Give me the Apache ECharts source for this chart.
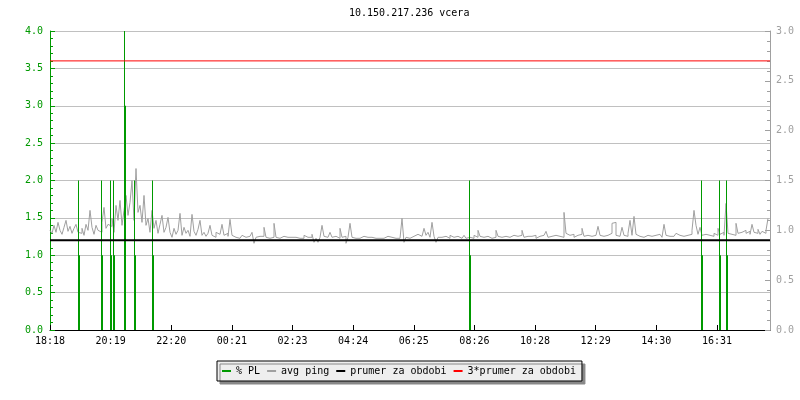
<!DOCTYPE html>
<html><head><meta charset="utf-8">
<script src="https://cdn.jsdelivr.net/npm/echarts@6/dist/echarts.min.js"></script>
<style>html,body{margin:0;padding:0;background:#fff}#c{width:800px;height:400px}</style>
</head><body><div id="c"></div>
<script>
// ---------- data ----------
const chartTitle = '10.150.217.236 vcera';
const startMinuteOfDay = 18 * 60 + 18;   // 18:18
const spanMinutes = 1440;                // 24 h
const xTickInterval = 121.26;            // minutes between time labels
const seriesNames = ['% PL', 'avg ping', 'prumer za obdobi', '3*prumer za obdobi'];

// packet loss events (minutes from start), peak value and sustained level (left axis, %)
const plTime  = [56, 102, 120, 126, 148, 168, 204, 838, 1302, 1338, 1352];
const plPeak  = [2, 2, 2, 2, 4, 2, 2, 2, 2, 2, 2];
const plLevel = [1, 1, 1, 1, 3, 1, 1, 1, 1, 1, 1];
const plDuration = 4; // minutes

// avg ping samples every 4 minutes (right axis)
const pingStep = 4;
const pingValues = [
  1.00,0.97,1.05,0.98,1.08,1.00,0.96,1.03,1.10,0.99,1.04,0.97,1.02,1.06,0.98,
  0.97,1.02,0.95,1.06,1.00,1.20,1.03,0.96,1.05,1.00,0.98,1.08,1.23,1.02,1.06,
  1.04,1.12,0.98,1.25,1.10,1.30,1.05,1.20,1.35,1.15,1.28,1.50,1.10,1.62,1.18,
  1.25,1.08,1.35,1.05,1.12,0.98,1.20,1.02,1.10,0.97,1.06,1.15,0.98,1.03,1.13,
  0.98,0.93,1.02,0.96,1.00,1.17,0.95,1.03,0.97,1.00,0.94,1.16,0.99,0.95,1.01,
  1.10,0.95,0.98,0.94,0.97,1.05,0.95,0.93,0.98,0.96,0.94,1.06,0.95,0.97,0.94,
  1.11,0.95,0.93,0.94,0.92,0.93,0.95,0.93,0.92,0.94,0.93,0.98,0.87,0.93,0.94,
  0.93,0.94,1.03,0.93,0.92,0.94,0.93,1.07,0.93,0.92,0.93,0.94,0.92,0.93,0.92,
  0.93,0.92,0.93,0.94,0.92,0.93,0.92,0.95,0.93,0.92,0.93,0.96,0.88,0.92,0.88,
  0.93,1.05,0.94,0.93,0.95,0.98,0.93,0.94,0.96,0.92,1.02,0.93,0.94,0.87,0.93,
  1.07,0.93,0.92,0.93,0.92,0.93,0.94,0.92,0.93,0.92,0.93,0.94,0.92,0.93,0.92,
  0.93,0.92,0.93,0.94,0.92,0.93,0.95,0.92,0.93,0.92,0.93,1.12,0.88,0.93,0.92,
  0.93,0.94,0.93,0.96,0.95,0.94,0.96,1.02,0.95,0.98,0.93,1.08,0.94,0.88,0.93,
  0.93,0.92,0.94,0.93,0.92,0.95,0.93,0.92,0.94,0.93,0.92,0.93,0.95,0.92,0.93,
  0.94,0.92,0.95,0.93,1.00,0.94,0.93,0.95,0.94,0.93,0.92,0.94,0.93,1.00,0.94,
  0.93,0.95,0.94,0.92,0.93,0.94,0.95,0.93,0.94,0.92,0.95,1.00,0.93,0.94,0.92,
  0.94,0.93,0.95,0.92,0.94,0.93,0.95,0.94,0.99,0.93,0.94,0.92,0.95,0.93,0.94,
  0.95,0.93,1.18,0.97,0.95,0.94,0.96,0.93,0.95,0.94,0.96,1.02,0.94,0.95,0.93,
  0.94,0.96,0.95,0.93,1.04,0.95,0.94,0.96,0.95,0.94,0.97,1.07,1.08,0.95,0.94,
  0.96,1.03,0.95,0.94,0.97,1.10,0.95,1.14,0.96,0.94,0.95,0.93,0.94,0.95,0.93,
  0.94,0.93,0.95,0.94,0.96,0.95,0.93,1.06,0.95,0.94,0.96,0.94,0.95,0.97,0.95,
  0.95,0.94,0.96,0.95,0.97,0.96,1.00,1.20,1.05,0.96,1.03,0.95,0.96,0.94,0.95,
  0.96,0.94,0.97,0.95,1.02,0.96,0.98,0.95,1.27,0.97,0.96,0.98,0.95,1.07,0.97,
  0.98,0.96,1.00,0.97,0.99,0.96,1.06,0.98,0.97,1.01,0.96,0.99,0.97,1.00,1.12
];

// period average and triple average (right axis)
const lineTimes = [0, 1440];
const meanValues = [0.9, 0.9];
const tripleMeanValues = [2.7, 2.7];

// axes
const leftMin = 0, leftMax = 4, leftInterval = 0.5;
const rightMin = 0, rightMax = 3, rightInterval = 0.5;

// ---------- styling ----------
const FONT = 'DejaVu Sans Mono';
const GREEN = '#009900', GRAY = '#a0a0a0', RED = '#ff0000', BLACK = '#000000';

const pingData = pingValues.map((v, i) => [i * pingStep, v]);
const plData = plTime.map((t, i) => [t, plPeak[i], plLevel[i]]);
const meanData = lineTimes.map((t, i) => [t, meanValues[i]]);
const tripleData = lineTimes.map((t, i) => [t, tripleMeanValues[i]]);

function fmtTime(v) {
  if (v >= spanMinutes - 0.5) return '';
  const m = (startMinuteOfDay + Math.floor(v + 1e-6)) % 1440;
  const h = Math.floor(m / 60), mm = m % 60;
  return String(h).padStart(2, '0') + ':' + String(mm).padStart(2, '0');
}

const chart = echarts.init(document.getElementById('c'), null, {renderer: 'canvas'});
chart.setOption({
  animation: false,
  backgroundColor: '#ffffff',
  title: {
    text: chartTitle, left: 349, top: 8, padding: 0,
    textStyle: {fontFamily: FONT, fontSize: 10, fontWeight: 'normal', color: BLACK}
  },
  legend: {
    left: 217, top: 361, padding: [5, 6, 5, 5],
    itemWidth: 9, itemHeight: 2, itemGap: 7, icon: 'rect',
    selectedMode: false,
    backgroundColor: '#eeeeee', borderColor: BLACK, borderWidth: 1,
    shadowColor: '#888888', shadowOffsetX: 3, shadowOffsetY: 3, shadowBlur: 0,
    textStyle: {fontFamily: FONT, fontSize: 10, color: BLACK},
    data: [
      {name: seriesNames[0], itemStyle: {color: GREEN}},
      {name: seriesNames[1], itemStyle: {color: GRAY}},
      {name: seriesNames[2], itemStyle: {color: BLACK}},
      {name: seriesNames[3], itemStyle: {color: RED}}
    ]
  },
  grid: {left: 50, right: 30, top: 31, bottom: 70, containLabel: false},
  xAxis: {
    type: 'value', min: 0, max: spanMinutes, interval: xTickInterval,
    axisLine: {show: true, onZero: false, lineStyle: {color: BLACK, width: 1}},
    axisTick: {show: true, inside: true, length: 5, lineStyle: {color: BLACK}},
    splitLine: {show: false},
    axisLabel: {margin: 6, fontFamily: FONT, fontSize: 10, color: BLACK, formatter: fmtTime, showMaxLabel: false}
  },
  yAxis: [
    {
      type: 'value', min: leftMin, max: leftMax, interval: leftInterval, position: 'left',
      axisLine: {show: true, lineStyle: {color: GREEN, width: 1}},
      axisTick: {show: true, inside: true, length: 5, lineStyle: {color: GREEN}},
      minorTick: {show: true, splitNumber: 5, length: 3, lineStyle: {color: GREEN}},
      splitLine: {show: true, lineStyle: {color: '#c0c0c0', width: 1}},
      axisLabel: {margin: 7, fontFamily: FONT, fontSize: 10, color: GREEN, formatter: v => v.toFixed(1)}
    },
    {
      type: 'value', min: rightMin, max: rightMax, interval: rightInterval, position: 'right',
      axisLine: {show: true, lineStyle: {color: GRAY, width: 1}},
      axisTick: {show: true, inside: true, length: 5, lineStyle: {color: GRAY}},
      minorTick: {show: true, splitNumber: 5, length: 3, lineStyle: {color: GRAY}},
      splitLine: {show: false},
      axisLabel: {margin: 6, fontFamily: FONT, fontSize: 10, color: GRAY, formatter: v => v.toFixed(1)}
    }
  ],
  series: [
    {
      name: seriesNames[1], type: 'line', yAxisIndex: 1, data: pingData,
      step: 'end', symbol: 'none', color: GRAY, z: 2,
      lineStyle: {color: GRAY, width: 1}
    },
    {
      name: seriesNames[0], type: 'custom', yAxisIndex: 0, data: plData, color: GREEN, z: 3,
      renderItem: function (params, api) {
        const t = api.value(0), peak = api.value(1), level = api.value(2);
        const p0 = api.coord([t, 0]);
        const pTop = api.coord([t, peak]);
        const pLev = api.coord([t, level]);
        const p1 = api.coord([t + plDuration, 0]);
        const x = Math.round(p0[0]);
        return {
          type: 'group',
          children: [
            {type: 'rect', shape: {x: x, y: pLev[1], width: Math.max(2, Math.round(p1[0] - p0[0])), height: p0[1] - pLev[1]},
             style: {fill: GREEN}},
            {type: 'line', shape: {x1: x + 0.5, y1: p0[1], x2: x + 0.5, y2: pTop[1]},
             style: {stroke: GREEN, lineWidth: 1}}
          ]
        };
      }
    },
    {
      name: seriesNames[2], type: 'line', yAxisIndex: 1, data: meanData,
      symbol: 'none', color: BLACK, z: 4, lineStyle: {color: BLACK, width: 2}
    },
    {
      name: seriesNames[3], type: 'line', yAxisIndex: 1, data: tripleData,
      symbol: 'none', color: RED, z: 5, lineStyle: {color: RED, width: 1}
    }
  ]
});
</script>
</body></html>
